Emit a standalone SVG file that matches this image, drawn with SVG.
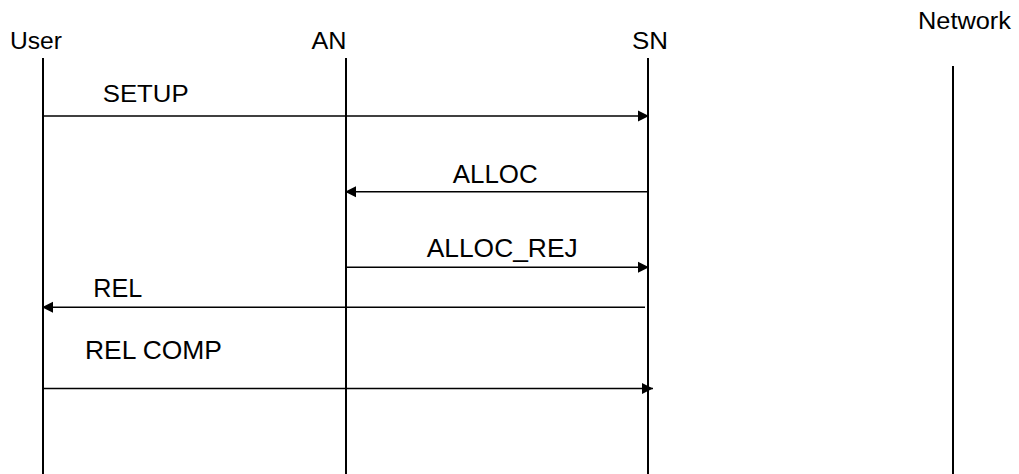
<svg xmlns="http://www.w3.org/2000/svg" width="1019" height="474" viewBox="0 0 1019 474">
<style>
.life{stroke:#000;stroke-width:2;fill:none}
.msg{stroke:#000;stroke-width:1.6;fill:none;marker-end:url(#ah)}
.hd{font-family:"Liberation Sans",Arial,sans-serif;font-size:23px;fill:#000}
.lb{font-family:"Liberation Sans",Arial,sans-serif;font-size:25.5px;fill:#000}
</style>
<defs>
<marker id="ah" markerUnits="userSpaceOnUse" markerWidth="12" markerHeight="12" viewBox="0 0 12 12" refX="11" refY="6" orient="auto">
<path d="M0,0.5 L11,6 L0,11.5 Z" fill="#000"/>
</marker>
</defs>
<rect width="1019" height="474" fill="#fff"/>
<g id="user">
<text class="hd" x="10" y="48.5" textLength="52" lengthAdjust="spacingAndGlyphs">User</text>
<line class="life" x1="43" y1="58" x2="43" y2="474"/>
</g>
<g id="an">
<text class="hd" x="311.5" y="49" textLength="35" lengthAdjust="spacingAndGlyphs">AN</text>
<line class="life" x1="346" y1="58" x2="346" y2="474"/>
</g>
<g id="sn">
<text class="hd" x="632" y="49" textLength="36" lengthAdjust="spacingAndGlyphs">SN</text>
<line class="life" x1="648" y1="58" x2="648" y2="474"/>
</g>
<g id="network">
<text class="hd" x="918" y="29" textLength="93" lengthAdjust="spacingAndGlyphs">Network</text>
<line class="life" x1="953" y1="66" x2="953" y2="474"/>
</g>
<g id="connectors">
<line class="msg" x1="43" y1="116" x2="649" y2="116"/>
<text class="hd" x="102.7" y="102" textLength="86" lengthAdjust="spacingAndGlyphs" style="font-size:23.5px">SETUP</text>
<line class="msg" x1="648" y1="191.7" x2="345" y2="191.7"/>
<text class="lb" x="452.7" y="183.3" textLength="85" lengthAdjust="spacingAndGlyphs">ALLOC</text>
<line class="msg" x1="346" y1="267.3" x2="649" y2="267.3"/>
<text class="lb" x="426.7" y="257" textLength="151" lengthAdjust="spacingAndGlyphs">ALLOC_REJ</text>
<line class="msg" x1="645" y1="307.3" x2="42" y2="307.3"/>
<text class="lb" x="93.3" y="296.7" textLength="49" lengthAdjust="spacingAndGlyphs">REL</text>
<line class="msg" x1="43" y1="388.5" x2="653" y2="388.5"/>
<text class="lb" x="85" y="359.3" textLength="137" lengthAdjust="spacingAndGlyphs">REL COMP</text>
</g>
</svg>
